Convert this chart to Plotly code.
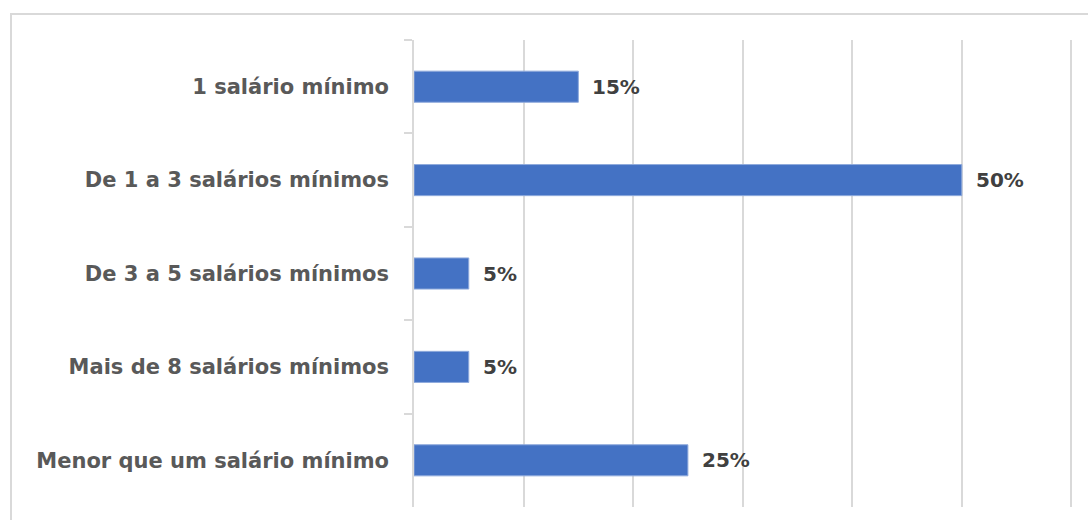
import plotly.graph_objects as go

# Faixas de renda e percentual de respondentes
categorias = [
    "1 salário mínimo",
    "De 1 a 3 salários mínimos",
    "De 3 a 5 salários mínimos",
    "Mais de 8 salários mínimos",
    "Menor que um salário mínimo",
]
percentuais = [0.15, 0.50, 0.05, 0.05, 0.25]
rotulos = ["15%", "50%", "5%", "5%", "25%"]

W, H = 1088, 520
L, R, T, B = 414, 15, 40, 13
plot_w = W - L - R
plot_h = H - T - B

familia = "DejaVu Sans"
cinza = "#d9d9d9"

fig = go.Figure(
    go.Bar(
        x=percentuais,
        y=categorias,
        orientation="h",
        marker=dict(color="#4472C4", line=dict(color="#8faadc", width=1)),
        hoverinfo="skip",
    )
)

for v, c, t in zip(percentuais, categorias, rotulos):
    fig.add_annotation(
        x=v, y=c, text=t, showarrow=False, xanchor="left", xshift=12,
        font=dict(family=familia, size=20, color="#404040", weight="bold"),
    )

# moldura externa do gráfico
fig.add_shape(
    type="rect", xref="paper", yref="paper",
    x0=(11 - L) / plot_w, x1=(W + 20 - L) / plot_w,
    y0=-(B + 20) / plot_h, y1=1 + (T - 14) / plot_h,
    line=dict(color=cinza, width=2), fillcolor="rgba(0,0,0,0)", layer="below",
)

fig.update_layout(
    width=W, height=H,
    margin=dict(l=L, r=R, t=T, b=B),
    paper_bgcolor="white", plot_bgcolor="white",
    bargap=0.667,
    showlegend=False,
    font=dict(family=familia, size=21, color="#595959"),
)
fig.update_xaxes(
    range=[0, 0.6015], tickvals=[0.1, 0.2, 0.3, 0.4, 0.5, 0.6],
    showticklabels=False,
    showgrid=True, gridcolor=cinza, gridwidth=1.5,
    zeroline=False, showline=False,
)
fig.update_yaxes(
    autorange="reversed", tickson="boundaries",
    ticks="outside", ticklen=8, tickcolor=cinza, tickwidth=1.5,
    showline=True, linecolor=cinza, linewidth=1.5,
    showgrid=False, ticklabelstandoff=19,
    tickfont=dict(family=familia, size=21, color="#595959", weight="bold"),
)

fig.write_html("out.html")
